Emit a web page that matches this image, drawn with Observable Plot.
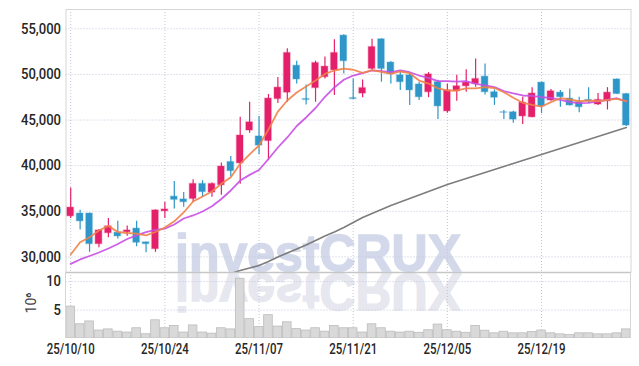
<!DOCTYPE html>
<html><head><meta charset="utf-8">
<script src="https://cdn.jsdelivr.net/npm/d3@7"></script>
<script src="https://cdn.jsdelivr.net/npm/@observablehq/plot@0.6"></script>
<style>
html,body{margin:0;padding:0;background:#fff;}
#chart{width:639px;height:366px;overflow:hidden;position:relative;}
#chart svg{display:block;}
</style></head><body><div id="chart"></div>
<script>
// ---- data ----
const dates = ["25/10/10","25/10/13","25/10/14","25/10/15","25/10/16","25/10/17","25/10/20","25/10/21","25/10/22","25/10/23",
"25/10/24","25/10/27","25/10/28","25/10/29","25/10/30","25/10/31","25/11/03","25/11/04","25/11/05","25/11/06",
"25/11/07","25/11/10","25/11/11","25/11/12","25/11/13","25/11/14","25/11/17","25/11/18","25/11/19","25/11/20",
"25/11/21","25/11/24","25/11/25","25/11/26","25/11/27","25/11/28","25/12/01","25/12/02","25/12/03","25/12/04",
"25/12/05","25/12/08","25/12/09","25/12/10","25/12/11","25/12/12","25/12/15","25/12/16","25/12/17","25/12/18",
"25/12/19","25/12/22","25/12/23","25/12/24","25/12/26","25/12/29","25/12/30","26/01/02","26/01/05","26/01/06"];
const open  = [34450,34750,34750,31400,32600,32650,32700,33100,31600,30850, 35000,36600,36300,36350,38000,37050,37850,40400,40250,43850,
               43200,42700,47300,48000,50950,47300,48500,49700,50450,54250, 47400,47900,50600,53850,51300,49900,49900,48900,48050,49150,
               45950,48150,48700,48950,49750,48050,45850,45850,45400,45300, 49100,47150,48000,47350,46950,47200,46700,47050,49450,47850];
const high  = [37550,35100,34800,33000,34200,33900,33400,33900,31600,35150, 36000,38250,37050,38450,38350,38100,40300,41000,45300,46950,
               45400,47800,49650,52800,51450,48850,51450,51900,53800,54350, 49500,49400,53850,53900,51400,50250,50200,49150,50200,49350,
               48950,49900,50500,51700,51150,48300,46050,45950,47500,48550, 49150,48350,48250,48400,47500,48550,47900,48550,49500,47900];
const low   = [34200,32950,30500,31000,32100,31950,32250,31100,30450,30500, 34200,35250,35450,36000,36550,36550,36750,38750,37950,43550,
               41200,40550,46800,46950,48950,46650,46950,49500,47700,50050, 47250,47450,50450,49150,48950,48250,46600,47150,47450,45050,
               45750,47050,48050,48600,47750,46600,45050,44650,44500,45250, 45700,47050,46400,46550,45800,46800,46600,46100,47800,44300];
const close = [35400,33900,31400,32900,33350,32250,32900,31550,31400,35100, 35200,36250,36000,38000,37100,38000,39900,39400,43300,44750,
               42200,47350,48550,52350,49450,47200,51250,50850,52350,51450, 47300,48500,53000,50600,50050,49150,48250,47500,50000,46500,
               48250,48700,49100,49500,48050,47450,45800,45050,46900,47900, 46500,48150,47500,46600,46400,47050,47200,48000,47850,44400];
const volume = [5.6,2.5,3.0,1.4,1.6,1.2,1.05,1.8,0.75,3.2, 1.8,2.2,1.05,2.3,1.05,0.85,1.8,1.6,10.5,3.4,
                2.0,4.1,2.1,2.85,1.65,1.4,1.8,1.2,2.2,1.8, 1.8,1.05,2.5,1.8,1.2,1.05,1.2,1.0,1.45,2.45,
                1.45,1.2,1.0,2.2,1.37,0.91,1.19,0.91,0.91,1.15, 1.4,0.91,0.73,0.6,0.91,0.91,0.73,0.73,0.91,1.6];
const ma5  = [30263,31613,32160,32895,33400,32730,32620,32560,32350,32730, 33220,33900,34870,36070,36620,37170,38010,38735,40200,41240,
              42210,43960,45930,47140,48020,48670,49330,50050,50430,50630, 50510,50180,50480,50270,50070,50320,50130,49330,49000,48470,
              48240,48240,48460,48460,48600,48510,48050,47440,46890,46650, 46480,46960,47390,47250,47060,47140,47060,47220,47330,47060];
const ma10 = [29240,29720,30100,30480,30920,31420,31960,32350,32710,32950, 33100,33550,34210,34540,34980,35560,36350,37280,38370,38990,
              39525,40730,41990,43090,44350,45280,46320,47550,48570,49420, 49880,50130,50430,50350,50260,50430,50240,49880,49630,49270,
              49260,49220,49260,48970,48790,48600,48180,47910,47690,47660, 47500,47440,47220,46960,46850,46890,47060,47220,47390,47030];
const ma60 = [null,null,null,null,null,null,null,null,null,null, null,null,null,null,null,null,null,28180,28510,28780,
              29060,29500,29990,30430,30870,31310,31800,32290,32730,33220, 33770,34320,34760,35190,35630,36020,36400,36780,37170,37550,
              37940,38260,38590,38920,39250,39580,39910,40240,40570,40900, 41230,41560,41880,42210,42540,42870,43200,43530,43860,44180];
const priceTicks = [30000,35000,40000,45000,50000,55000];
const volumeTicks = [5,10];
const dateTicks = ["25/10/10","25/10/24","25/11/07","25/11/21","25/12/05","25/12/19"];
const volumeUnit = "10⁶";
const watermark = "investCRUX";

// ---- build ----
const rows = dates.map((d, i) => ({date: d, open: open[i], high: high[i], low: low[i], close: close[i],
  volume: volume[i], ma5: ma5[i], ma10: ma10[i], ma60: ma60[i]}));
const up = rows.filter(d => d.close >= d.open);
const down = rows.filter(d => d.close < d.open);

const W = 639, ML = 65.5, MR = 8.5;
const FONT = 'Roboto, "Liberation Sans", sans-serif';
const UP = "#e5206a", DOWN = "#2e96c8";
const GRID = {stroke: "#c2c5da", strokeOpacity: 1, strokeDasharray: "1,2"};
const LABEL = {fontSize: 15, fontWeight: 500, fill: "#262626", label: null};
const X = {type: "band", domain: dates, padding: 0, round: false, axis: null};

const price = Plot.plot({
  width: W, height: 272, marginTop: 9, marginBottom: 0, marginLeft: ML, marginRight: MR,
  style: {fontFamily: FONT, background: "transparent", overflow: "visible"},
  x: X,
  y: {domain: [28290, 57115], axis: null},
  marks: [
    Plot.gridX(dateTicks, GRID),
    Plot.gridY(priceTicks, GRID),
    Plot.axisY(priceTicks, {tickSize: 0, tickPadding: 5, tickFormat: d3.format(","), ...LABEL}),
    Plot.frame({stroke: "#d6d6d6"}),
    Plot.ruleX(up, {x: "date", y1: "low", y2: "high", stroke: UP, strokeWidth: 1.2}),
    Plot.ruleX(down, {x: "date", y1: "low", y2: "high", stroke: DOWN, strokeWidth: 1.2}),
    Plot.barY(up, {x: "date", y1: "open", y2: "close", fill: UP, insetLeft: 1.4, insetRight: 1.4, stroke: UP, strokeOpacity: 0.25, strokeWidth: 1.5}),
    Plot.barY(down, {x: "date", y1: "open", y2: "close", fill: DOWN, insetLeft: 1.4, insetRight: 1.4, stroke: DOWN, strokeOpacity: 0.25, strokeWidth: 1.5}),
    Plot.line(rows, {x: "date", y: "ma60", stroke: "#7d7d7d", strokeWidth: 1.6, clip: true, defined: d => d.ma60 != null}),
    Plot.line(rows, {x: "date", y: "ma10", stroke: "#c94fe4", strokeWidth: 1.8, strokeOpacity: 0.9}),
    Plot.line(rows, {x: "date", y: "ma5", stroke: "#ef8248", strokeWidth: 1.8, strokeOpacity: 0.9})
  ]
});

const vol = Plot.plot({
  width: W, height: 94, marginTop: 0, marginBottom: 28, marginLeft: ML, marginRight: MR,
  style: {fontFamily: FONT, background: "transparent", overflow: "visible"},
  x: X,
  y: {domain: [0, 11.6], axis: null},
  marks: [
    Plot.gridX(dateTicks, GRID),
    Plot.gridY(volumeTicks, GRID),
    Plot.barY(rows, {x: "date", y: "volume", fill: "#d9d9d9", stroke: "#bcbcbc", strokeWidth: 0.8, insetLeft: 0.4, insetRight: 0.4, clip: true}),
    Plot.axisY(volumeTicks, {tickSize: 0, tickPadding: 5, ...LABEL}),
    Plot.axisX(dateTicks, {tickSize: 0, tickPadding: 5, ...LABEL}),
    Plot.ruleY([11.6], {stroke: "#c6c6c6", strokeWidth: 1.5})
  ]
});

const chart = document.getElementById("chart");
chart.append(price, vol);

// narrow the tick labels to mimic the condensed face of the reference
for (const svg of [price, vol]) {
  svg.querySelectorAll('g[aria-label="y-axis tick label"] text').forEach(t => {
    const len = t.getComputedTextLength();
    t.setAttribute("textLength", (len * 0.87).toFixed(1));
    t.setAttribute("lengthAdjust", "spacingAndGlyphs");
  });
  svg.querySelectorAll('g[aria-label="x-axis tick label"] text').forEach(t => {
    t.setAttribute("textLength", 48);
    t.setAttribute("lengthAdjust", "spacingAndGlyphs");
  });
}

// watermark behind marks
const ns = "http://www.w3.org/2000/svg";
function addText(svg, attrs, txt, first) {
  const t = document.createElementNS(ns, "text");
  for (const k in attrs) t.setAttribute(k, attrs[k]);
  t.textContent = txt;
  if (first) svg.insertBefore(t, svg.querySelector("g"));
  else svg.appendChild(t);
  return t;
}
const wmAttrs = {x: 175, "text-anchor": "start", "font-family": "'Liberation Sans', Arial, sans-serif", "font-weight": "bold",
  "font-size": 52, textLength: 286, lengthAdjust: "spacingAndGlyphs", "stroke-width": 1.5};
addText(price, {...wmAttrs, y: 271, fill: "#d3d9ea", stroke: "#d3d9ea"}, watermark, true);
addText(vol, {...wmAttrs, y: -2, transform: "scale(1,-1)", fill: "#e7e7f0", stroke: "#e7e7f0"}, watermark, true);

// left / right borders of the volume panel
for (const x of [ML, W - MR]) {
  const l = document.createElementNS(ns, "line");
  l.setAttribute("x1", x); l.setAttribute("x2", x);
  l.setAttribute("y1", 0); l.setAttribute("y2", 66);
  l.setAttribute("stroke", "#d6d6d6");
  vol.appendChild(l);
}
// volume unit label
addText(vol, {transform: "translate(32,31) rotate(-90)", "text-anchor": "middle", "dominant-baseline": "middle",
  "font-family": FONT, "font-size": 14, fill: "#444"}, volumeUnit, false);
</script></body></html>
